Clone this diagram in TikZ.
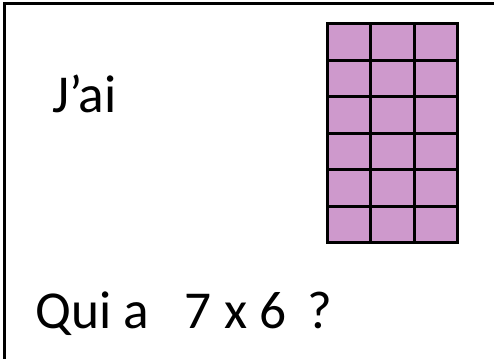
\documentclass[tikz,border=0pt]{standalone}
\usepackage{fontspec}
\setmainfont{Carlito}
\definecolor{cellpink}{RGB}{206,153,204}

\begin{document}
\begin{tikzpicture}[
    x=0.75pt, y=-0.75pt,
    frameline/.style={line width=2.25pt},
    cellline/.style={draw, line width=2.25pt},
    bigtext/.style={anchor=base west, inner sep=0pt, font=\fontsize{40}{48}\selectfont},
]
    \useasboundingbox (0,0) rectangle (494,359);
    % frame, only top and left edges show
    \draw[frameline] (4.5,365) -- (4.5,3.5) -- (500,3.5);
    % 3 x 6 grid
    \fill[cellpink] (327.5,23.5) rectangle (457.5,243);
    \foreach \i in {0,1,2}
        \foreach \j in {0,...,5}
            \draw[cellline] ({327.5+43.33*\i},{23.5+36.58*\j}) rectangle ++(43.33,36.58);

    \node[bigtext] (have) at (52,113) {J’ai};
    \node[bigtext] (ask) at (35,329) {Qui a\hspace{27pt}7 x 6\hspace{16pt}?};
\end{tikzpicture}
\end{document}
